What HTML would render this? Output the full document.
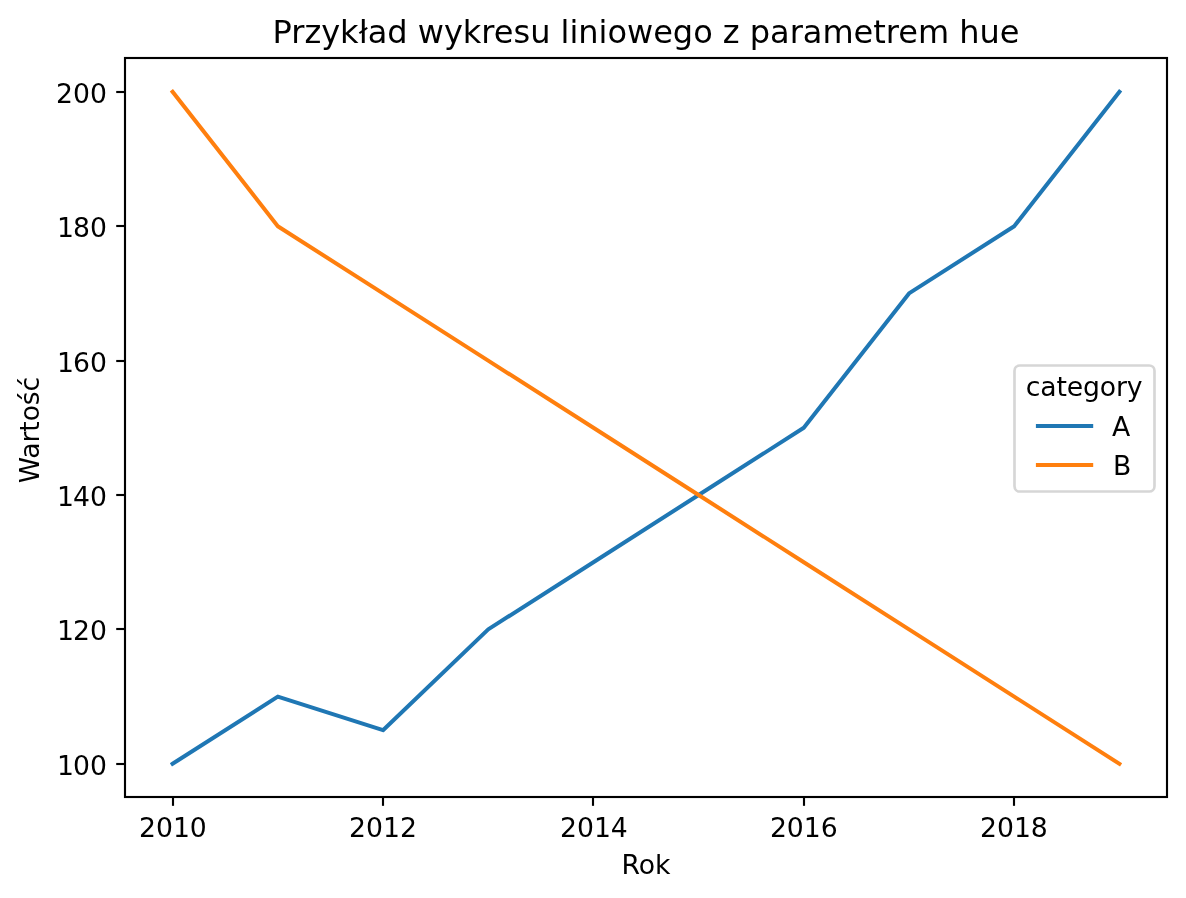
<!DOCTYPE html>
<html lang="pl"><head><meta charset="utf-8"><title>Przykład wykresu liniowego z parametrem hue</title>
<style>
html,body{margin:0;padding:0;background:#fff;}
body{width:1186px;height:898px;overflow:hidden;}
svg{display:block;font-family:"DejaVu Sans","Liberation Sans",sans-serif;fill:#000;}
.t{font-size:26.67px;}
.tt{font-size:32px;}
</style></head><body>
<svg width="1186" height="898" viewBox="0 0 1186 898">
<rect x="0" y="0" width="1186" height="898" fill="#ffffff"/>
<g fill="none" stroke-width="4" stroke-linecap="square" stroke-linejoin="round">
<polyline stroke="#1f77b4" points="172.60,763.80 277.80,696.60 383.00,730.20 488.20,629.40 593.40,562.20 698.60,495.00 803.80,427.80 909.00,293.40 1014.20,226.20 1119.40,91.80"/>
<polyline stroke="#ff7f0e" points="172.60,91.80 277.80,226.20 383.00,293.40 488.20,360.60 593.40,427.80 698.60,495.00 803.80,562.20 909.00,629.40 1014.20,696.60 1119.40,763.80"/>
</g>
<g stroke="#000" stroke-width="2.13" fill="none">
<line x1="173" y1="797" x2="173" y2="805.83"/>
<line x1="383" y1="797" x2="383" y2="805.83"/>
<line x1="593" y1="797" x2="593" y2="805.83"/>
<line x1="804" y1="797" x2="804" y2="805.83"/>
<line x1="1014" y1="797" x2="1014" y2="805.83"/>
<line x1="116.22" y1="764" x2="125" y2="764"/>
<line x1="116.22" y1="629" x2="125" y2="629"/>
<line x1="116.22" y1="495" x2="125" y2="495"/>
<line x1="116.22" y1="361" x2="125" y2="361"/>
<line x1="116.22" y1="226" x2="125" y2="226"/>
<line x1="116.22" y1="92" x2="125" y2="92"/>
<rect x="125" y="58" width="1042" height="739"/>
</g>
<g class="t">
<text x="172.90" y="837" text-anchor="middle">2010</text>
<text x="383.00" y="837" text-anchor="middle">2012</text>
<text x="593.90" y="837" text-anchor="middle">2014</text>
<text x="803.80" y="837" text-anchor="middle">2016</text>
<text x="1013.90" y="837" text-anchor="middle">2018</text>
<text x="56.90 72.96 89.93" y="774.80">100</text>
<text x="56.90 72.96 89.93" y="639.80">120</text>
<text x="56.90 72.96 89.93" y="505.80">140</text>
<text x="56.90 72.96 89.93" y="371.80">160</text>
<text x="56.90 72.96 89.93" y="236.80">180</text>
<text x="56.00 72.96 89.93" y="102.80">200</text>
<text x="646" y="874" text-anchor="middle">Rok</text>
<text transform="translate(39,430) rotate(-90)" text-anchor="middle" textLength="106.5">Wartość</text>
</g>
<text class="tt" x="646" y="42.9" text-anchor="middle" textLength="746.9">Przykład wykresu liniowego z parametrem hue</text>
<rect x="1014.5" y="365.5" width="140.00" height="126.00" rx="5.33" ry="5.33" fill="#ffffff" fill-opacity="0.8" stroke="#cccccc" stroke-opacity="0.8" stroke-width="2.67"/>
<g class="t"><text x="1084.2" y="395.7" text-anchor="middle" textLength="116.7">category</text>
<text x="1111.9" y="435.7">A</text><text x="1112.9" y="474.5">B</text></g>
<g fill="none" stroke-width="4" stroke-linecap="square">
<line x1="1037.9" y1="426" x2="1091.2" y2="426" stroke="#1f77b4"/>
<line x1="1037.9" y1="465" x2="1091.2" y2="465" stroke="#ff7f0e"/>
</g>
</svg></body></html>
